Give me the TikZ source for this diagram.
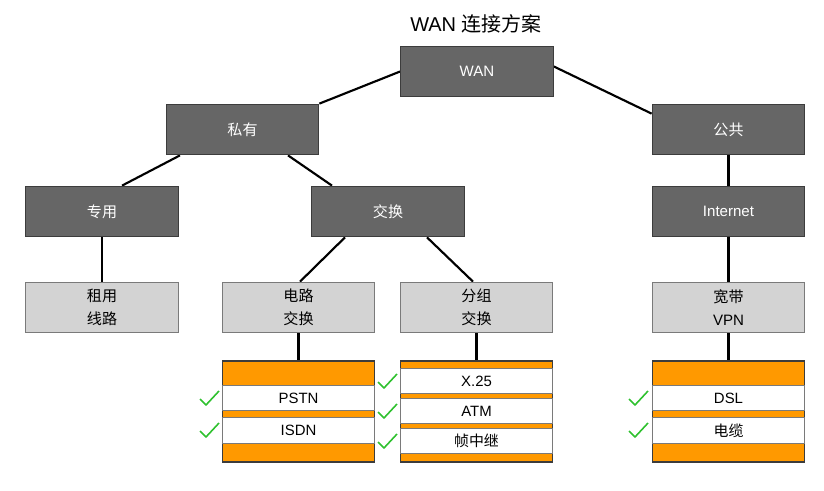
\documentclass[tikz,border=0pt]{standalone}
\usepackage{fontspec}
\setmainfont{Liberation Sans}
\newfontfamily\cjk{Noto Sans CJK SC}
\usetikzlibrary{calc,backgrounds}
\definecolor{darkbox}{HTML}{666666}
\definecolor{darkedge}{HTML}{3C3C3C}
\definecolor{lightbox}{HTML}{D3D3D3}
\definecolor{lightedge}{HTML}{7A7A7A}
\definecolor{orangebox}{HTML}{FF9900}
\definecolor{chk}{HTML}{2FC12F}
\begin{document}
\begin{tikzpicture}[x=0.75pt,y=-0.75pt,
  box/.style={minimum width=114.5pt,minimum height=38pt,inner sep=0pt,line width=0.8pt,
    font=\fontsize{11.3}{17}\selectfont,align=center},
  darkb/.style={box,fill=darkbox,draw=darkedge,text=white},
  lightb/.style={box,fill=lightbox,draw=lightedge,text=black},
  stackb/.style={minimum width=114.5pt,minimum height=75.75pt,inner sep=0pt,fill=orangebox,draw=darkedge,line width=0.8pt},
  bandb/.style={minimum width=114.5pt,minimum height=19pt,inner sep=0pt,fill=white,draw=lightedge,line width=0.8pt,
    font=\fontsize{11.2}{12}\selectfont},
  conn/.style={line width=1.6pt,black},
  tick/.style={chk,line width=1.2pt,line join=round}
]
\useasboundingbox (0,0) rectangle (824,491);

\node[font=\fontsize{15}{18}\selectfont] (title) at (476,24) {WAN {\cjk 连接方案}};

\node[darkb] (wan) at (477,71.5) {WAN};
\node[darkb] (priv) at (242.5,129.5) {\cjk 私有};
\node[darkb] (pub) at (728.5,129.5) {\cjk 公共};
\node[darkb] (ded) at (102,211.5) {\cjk 专用};
\node[darkb] (swc) at (388,211.5) {\cjk 交换};
\node[darkb] (inet) at (728.5,211.5) {Internet};
\node[lightb] (lease) at (102,307.5) {\cjk 租用\\\cjk 线路};
\node[lightb] (circ) at (298.5,307.5) {\cjk 电路\\\cjk 交换};
\node[lightb] (pkt) at (476.5,307.5) {\cjk 分组\\\cjk 交换};
\node[lightb] (vpn) at (728.5,307.5) {\cjk 宽带\\VPN};

\node[stackb] (stackA) at (298.5,411.5) {};
\node[bandb] (pstn) at (298.5,398) {PSTN};
\node[bandb] (isdn) at (298.5,430.5) {ISDN};

\node[stackb] (stackB) at (476.5,411.5) {};
\node[bandb] (x25) at (476.5,381) {X.25};
\node[bandb] (atm) at (476.5,411) {ATM};
\node[bandb] (frm) at (476.5,441) {\cjk 帧中继};

\node[stackb] (stackC) at (728.5,411.5) {};
\node[bandb] (dsl) at (728.5,398) {DSL};
\node[bandb] (cable) at (728.5,430.5) {\cjk 电缆};

\begin{scope}[on background layer]
\draw[conn] (wan.west) -- (priv.north east);
\draw[conn] ($(wan.east)+(0,-5)$) -- ($(pub.north west)+(0,10)$);
\draw[conn] ($(priv.south)+(-62.5,0)$) -- ($(ded.north)+(20,0)$);
\draw[conn] ($(priv.south)+(45.5,0)$) -- ($(swc.north)+(-56,0)$);
\draw[conn] ($(swc.south)+(-43,0)$) -- ($(circ.north)+(1.5,0)$);
\draw[conn] ($(swc.south)+(39,0)$) -- ($(pkt.north)+(-3.5,0)$);
\draw[conn] (ded.south) -- (lease.north);
\draw[conn] (pub.south) -- (inet.north);
\draw[conn] (inet.south) -- (vpn.north);
\draw[conn] (circ.south) -- (stackA.north);
\draw[conn] (pkt.south) -- (stackB.north);
\draw[conn] (vpn.south) -- (stackC.north);
\end{scope}

% check marks
\foreach \bx/\by in {206/405, 206/437, 384/388, 384/418, 384/448, 635/405, 635/437}{
  \draw[tick] (\bx-6,\by-6) -- (\bx,\by) -- (\bx+13,\by-14);
}
\end{tikzpicture}
\end{document}
